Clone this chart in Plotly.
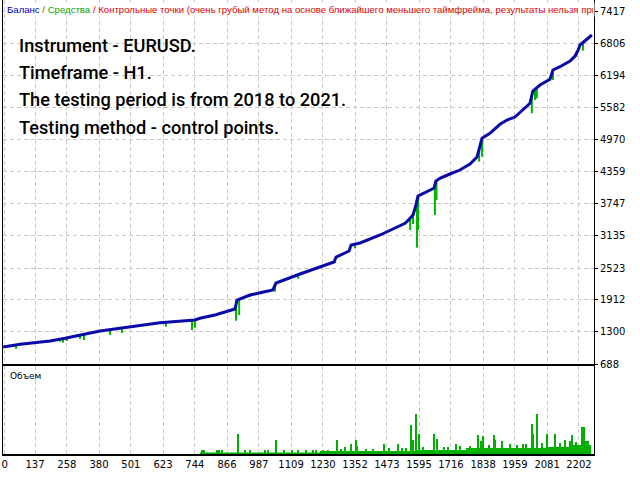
import plotly.graph_objects as go

# balance curve (trade number -> balance)
bal_x = [16, 81, 194, 251, 384, 498, 611, 744, 763, 820,
         896, 904, 953, 1040, 1052, 1143, 1207, 1230, 1272, 1280,
         1329, 1337, 1371, 1447, 1485, 1542, 1561, 1572, 1580, 1591,
         1617, 1652, 1659, 1674, 1712, 1750, 1788, 1815, 1834, 1864,
         1902, 1929, 1959, 1989, 2016, 2027, 2054, 2092, 2103, 2130,
         2168, 2187, 2198, 2206, 2244, 2251]
bal_y = [1013, 1065, 1128, 1179, 1319, 1401, 1477, 1529, 1562, 1625,
         1739, 1911, 2007, 2103, 2236, 2408, 2523, 2567, 2638, 2733,
         2848, 2963, 3001, 3154, 3249, 3377, 3473, 3536, 3670, 3899,
         3962, 4052, 4186, 4238, 4320, 4396, 4511, 4645, 5002, 5098,
         5270, 5352, 5409, 5543, 5671, 5906, 6021, 6130, 6308, 6371,
         6480, 6575, 6677, 6786, 6933, 6977]

# equity drawdowns (trade number, equity before, lowest equity)
dip_x = [65, 232, 243, 258, 308, 323, 422, 467, 634, 733, 744, 900, 912, 953,
         1048, 1136, 1276, 1352, 1561, 1572, 1587, 1591, 1655, 1661, 1823, 1834,
         2005, 2023, 2035, 2042, 2103, 2193, 2217]
dip_top = [1065, 1166, 1170, 1180, 1233, 1245, 1338, 1376, 1491, 1529, 1529, 1900, 1911, 2007,
           2200, 2395, 2700, 2990, 3473, 3536, 3750, 3899, 4050, 4186, 4800, 5002,
           5620, 5800, 5930, 5970, 6300, 6660, 6830]
dip_low = [980, 1114, 1095, 1128, 1166, 1147, 1242, 1281, 1401, 1338, 1382, 1516, 1625, 1970,
           2070, 2319, 2624, 2900, 3249, 3364, 2911, 3249, 3536, 3823, 4555, 4650,
           5595, 5480, 5734, 5767, 6117, 6562, 6677]

# volume: base level steps and single spikes
vol_base_x = [763, 1219, 1580, 1773, 2080, 2168, 2248]
vol_base_h = [0.15, 0.3, 0.4, 0.6, 0.7, 0.9, 0.9]
vol_x = [770, 779, 828, 836, 847, 908, 934, 953, 1010, 1021, 1052, 1082, 1112, 1135,
         1166, 1192, 1204, 1230, 1250, 1283, 1300, 1314, 1337, 1356, 1359, 1395, 1420,
         1462, 1480, 1515, 1530, 1545, 1564, 1571, 1584, 1596, 1610, 1653, 1664, 1690,
         1706, 1734, 1750, 1790, 1820, 1829, 1839, 1860, 1879, 1883, 1908, 1940, 1966,
         1991, 2000, 2025, 2029, 2044, 2060, 2079, 2111, 2130, 2149, 2168, 2177, 2190,
         2212, 2222, 2227, 2235]
vol_h = [0.4, 0.4, 0.4, 0.4, 0.4, 2.0, 0.4, 0.4, 0.4, 0.4, 1.4, 0.4, 0.4, 0.4,
         0.4, 0.4, 0.4, 0.4, 0.4, 1.4, 0.5, 0.7, 1.0, 1.4, 0.8, 0.5, 0.5,
         1.0, 0.6, 1.0, 0.6, 0.6, 2.9, 1.4, 4.0, 2.0, 0.7, 2.0, 1.5, 0.7,
         0.7, 1.0, 0.8, 0.8, 1.9, 1.3, 1.8, 0.9, 1.9, 1.4, 1.3, 1.0, 0.9,
         1.0, 1.0, 3.0, 2.0, 4.0, 1.1, 2.0, 2.0, 1.1, 1.4, 1.3, 1.9, 1.2,
         2.7, 2.7, 1.3, 1.3]

x_ticks = ["0", "137", "258", "380", "501", "623", "744", "866", "987", "1109", "1230",
           "1352", "1473", "1595", "1716", "1838", "1959", "2081", "2202"]
y_ticks = [688, 1300, 1912, 2523, 3135, 3747, 4359, 4970, 5582, 6194, 6806, 7417]

notes = ["Instrument - EURUSD.", "Timeframe - H1.",
         "The testing period is from 2018 to 2021.", "Testing method - control points."]

X_RANGE = [15.5, 2259]
x_vals = [22] + [int(t) for t in x_ticks[1:]]
grid = dict(showgrid=True, gridcolor="#c8c8c8", griddash="4px,3px", gridwidth=1)
tick_font = dict(family="DejaVu Sans", size=10, color="#000000")

# equity as vertical drawdown strokes
eq_x, eq_y = [], []
for x, t, l in zip(dip_x, dip_top, dip_low):
    eq_x += [x, x, None]
    eq_y += [t, l, None]

fig = go.Figure()
fig.add_trace(go.Scatter(x=eq_x, y=eq_y, mode="lines",
                         line=dict(color="#00b400", width=2), xaxis="x", yaxis="y"))
fig.add_trace(go.Scatter(x=bal_x, y=bal_y, mode="lines",
                         line=dict(color="#0a0aa8", width=3), xaxis="x", yaxis="y"))
fig.add_trace(go.Scatter(x=vol_base_x, y=vol_base_h, mode="lines", line_shape="hv",
                         fill="tozeroy", fillcolor="#00b000",
                         line=dict(color="#00b000", width=0), xaxis="x2", yaxis="y2"))
fig.add_trace(go.Bar(x=vol_x, y=vol_h, width=4, marker=dict(color="#00b000", line_width=0),
                     xaxis="x2", yaxis="y2"))

H = 454.0  # plot area height in px

annotations = [
    dict(xref="paper", yref="paper", x=0.003, y=1 - 10 / H, xanchor="left", yanchor="middle",
         showarrow=False, width=586, align="left", bgcolor="#ffffff",
         font=dict(family="Liberation Sans", size=9.6),
         text="<span style='color:#0000c8'>Баланс</span> <span style='color:#606000'>/</span> "
              "<span style='color:#00aa00'>Средства</span> <span style='color:#e00000'>/ "
              "Контрольные точки (очень грубый метод на основе ближайшего меньшего таймфрейма, "
              "результаты нельзя прин</span>"),
    dict(xref="paper", yref="paper", x=0.008, y=1 - 376 / H, xanchor="left", yanchor="middle",
         showarrow=False, text="Объем", font=dict(family="DejaVu Sans", size=9, color="#000000")),
]
for i, line in enumerate(notes):
    annotations.append(dict(
        xref="paper", yref="paper", x=14 / 591, y=1 - (45 + 27.4 * i) / H,
        xanchor="left", yanchor="middle", showarrow=False, text=line,
        font=dict(family="Roboto", size=18.2, weight=500, color="#000000")))

fig.update_layout(
    width=640, height=480,
    margin=dict(l=3, r=46, t=0, b=26, autoexpand=False),
    paper_bgcolor="#ffffff", plot_bgcolor="#ffffff",
    showlegend=False, bargap=0,
    xaxis=dict(domain=[0, 1], range=X_RANGE, anchor="y", tickvals=x_vals,
               showticklabels=False, ticks="", showline=True, linecolor="#000000",
               zeroline=False, **grid),
    yaxis=dict(domain=[90 / H, 1], range=[688, 7646], side="right", tickvals=y_ticks,
               ticktext=[str(v) for v in y_ticks], ticks="outside", ticklen=3,
               tickcolor="#000000", tickfont=tick_font, showline=True, mirror=True,
               linecolor="#000000", zeroline=False, **grid),
    xaxis2=dict(domain=[0, 1], range=X_RANGE, anchor="y2", tickvals=x_vals, ticktext=x_ticks,
                ticks="", tickfont=tick_font, showline=True, mirror=True,
                linecolor="#000000", linewidth=1.5, zeroline=False, **grid),
    yaxis2=dict(domain=[0, 88 / H], range=[0, 8.8], side="right", showticklabels=False,
                ticks="", showgrid=False, showline=True, mirror=True,
                linecolor="#000000", zeroline=False),
    annotations=annotations,
)

# drop the default page margin so the figure sits at the window corner
fig.write_html("out.html", config={"displayModeBar": False},
               post_script="document.body.style.margin='0';")
